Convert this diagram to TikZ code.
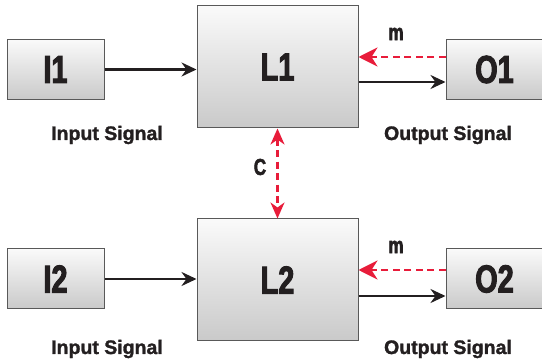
\documentclass[tikz,border=0pt]{standalone}
\usepackage{fontspec}
\setmainfont{Liberation Sans}[BoldFeatures={FakeBold=1.5}]
\newfontfamily\narrowfont{Liberation Sans}[FakeStretch=0.74,BoldFeatures={FakeBold=2.5}]
\usetikzlibrary{positioning}
\usetikzlibrary{arrows.meta}
\definecolor{sigred}{RGB}{232,28,58}
\definecolor{inchiostro}{RGB}{35,31,32}

\begin{document}
\begin{tikzpicture}[x=1pt,y=1pt,
blocco/.style={draw=gray!70!black,line width=1pt,top color=gray!4,bottom color=gray!42,font=\narrowfont\bfseries\fontsize{39}{39}\selectfont,text=inchiostro,inner sep=0pt},
piccolo/.style={blocco,minimum width=97pt,minimum height=60pt},
grande/.style={blocco,minimum width=161pt,minimum height=122pt},
etichetta/.style={font=\bfseries\fontsize{19.5}{19.5}\selectfont,text=inchiostro},
lettera/.style={font=\narrowfont\bfseries\fontsize{23}{23}\selectfont,text=inchiostro},
segnale/.style={line width=2.6pt,inchiostro,-{Stealth[length=15pt,width=14pt,inset=5pt]}},
ritorno/.style={line width=2.6pt,sigred,dash pattern=on 7pt off 4.5pt,-{Stealth[length=19pt,width=19pt,inset=6pt]}}
]
\useasboundingbox (0,0) rectangle (542,362);
%-- prima catena
\node[piccolo](ia) at (55.5,292.5){I1};
\node[grande](la) at (277.5,295){L1};
\node[piccolo](oa) at (494.5,292.5){O1};
\draw[segnale] (ia.east) -- (ia.east -| la.west);
\draw[segnale] ([yshift=-12.5pt]oa.west -| la.east) -- ([yshift=-12.5pt]oa.west);
\draw[ritorno] ([yshift=12.5pt]oa.west) -- ([yshift=12.5pt]oa.west -| la.east);
\node[lettera](ma) at (396,328){m};
\node[etichetta](ina) at (107,227){Input Signal};
\node[etichetta](outa) at (448,227){Output Signal};
%-- seconda catena
\node[piccolo](ib) at (55.5,83){I2};
\node[grande](lb) at (277.5,82){L2};
\node[piccolo](ob) at (494.5,83){O2};
\draw[segnale] (ib.east) -- (ib.east -| lb.west);
\draw[segnale] ([yshift=-17pt]ob.west -| lb.east) -- ([yshift=-17pt]ob.west);
\draw[ritorno] ([yshift=9pt]ob.west) -- ([yshift=9pt]ob.west -| lb.east);
\node[lettera](mb) at (396,115){m};
\node[etichetta](inb) at (107,13){Input Signal};
\node[etichetta](outb) at (448,13){Output Signal};
%-- accoppiamento
\draw[ritorno,line width=2.4pt,{Stealth[length=16pt,width=14pt,inset=5pt]}-{Stealth[length=16pt,width=14pt,inset=5pt]}] (la.south) -- (lb.north);
\node[lettera](c) at (260,195){C};
\end{tikzpicture}
\end{document}
